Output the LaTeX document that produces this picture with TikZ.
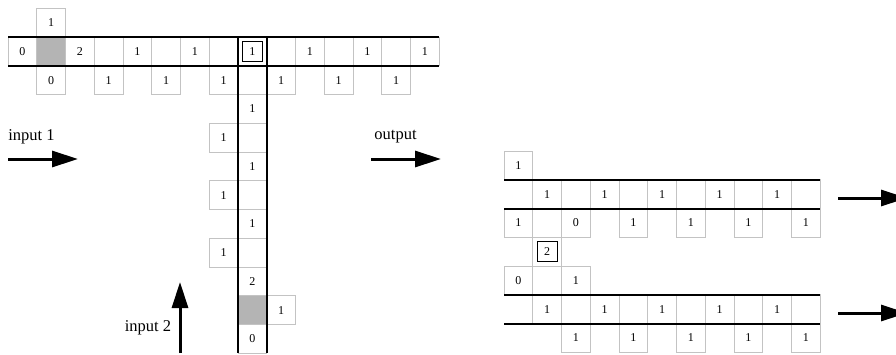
\documentclass[tikz,border=0pt]{standalone}
\usepackage{fontspec}
\setmainfont{Liberation Serif}
\usetikzlibrary{arrows.meta}
\definecolor{cellline}{RGB}{195,195,195}
\definecolor{cellfill}{RGB}{180,180,180}
\tikzset{
  cell/.style={draw=cellline, line width=0.8pt, minimum width=28.75pt, minimum height=28.75pt, inner sep=0pt, outer sep=0pt, font=\fontsize{12}{12}\selectfont},
  shaded/.style={fill=cellfill},
  innerbox/.style={draw=black, line width=0.9pt, minimum width=20pt, minimum height=20pt, inner sep=0pt, font=\fontsize{12}{12}\selectfont},
  track/.style={line width=2pt, black},
  bigarrow/.style={line width=3pt, -{Triangle[length=26pt,width=16pt]}},
  lbl/.style={inner sep=0pt, font=\fontsize{16.5}{17}\selectfont}
}
\newcommand\lcell[4][]{\node[cell,#1] (L-#2-#3) at ({8+28.75*(#3+0.5)},{8.25+28.75*(#2+0.5)}) {#4};}
\newcommand\rcell[4][]{\node[cell,#1] (R-#2-#3) at ({504+28.75*(#3+0.5)},{151+28.75*(#2+0.5)}) {#4};}
\begin{document}
\begin{tikzpicture}[x=1pt,y=-1pt]
\useasboundingbox (0,0) rectangle (896,354);
\clip (0,0) rectangle (896,354);
% ---------- left figure ----------
\lcell{0}{1}{1}
% horizontal band
\foreach \c in {0,...,14} {\lcell{1}{\c}{}}
\lcell{1}{0}{0}
\lcell[shaded]{1}{1}{}
\lcell{1}{2}{2}
\foreach \c in {4,6,10,12,14} {\lcell{1}{\c}{1}}
\node[innerbox] (L-1-8-in) at (L-1-8) {1};
% row below band
\lcell{2}{1}{0}
\foreach \c in {3,5,7,9,11,13} {\lcell{2}{\c}{1}}
% vertical band
\foreach \r in {2,...,11} {\lcell{\r}{8}{}}
\foreach \r in {3,5,7} {\lcell{\r}{8}{1}}
\lcell{9}{8}{2}
\lcell[shaded]{10}{8}{}
\lcell{11}{8}{0}
\foreach \r in {4,6,8} {\lcell{\r}{7}{1}}
\lcell{10}{9}{1}
% tracks
\draw[track] (L-1-0.north west) -- (L-1-14.north east);
\draw[track] (L-1-0.south west) -- (L-1-14.south east);
\draw[track] (L-1-8.north west) -- (L-11-8.south west);
\draw[track] (L-1-8.north east) -- (L-11-8.south east);
% ---------- right figure ----------
\rcell{0}{0}{1}
\foreach \c in {1,...,10} {\rcell{1}{\c}{}}
\foreach \c in {1,3,5,7,9} {\rcell{1}{\c}{1}}
\rcell{2}{0}{1}
\rcell{2}{1}{}
\rcell{2}{2}{0}
\foreach \c in {4,6,8,10} {\rcell{2}{\c}{1}}
\rcell{3}{1}{}
\node[innerbox] (R-3-1-in) at (R-3-1) {2};
\rcell{4}{0}{0}
\rcell{4}{1}{}
\rcell{4}{2}{1}
\foreach \c in {1,...,10} {\rcell{5}{\c}{}}
\foreach \c in {1,3,5,7,9} {\rcell{5}{\c}{1}}
\foreach \c in {2,4,6,8,10} {\rcell{6}{\c}{1}}
\draw[track] (R-0-0.south west) -- (R-1-10.north east);
\draw[track] (R-2-0.north west) -- (R-1-10.south east);
\draw[track] (R-4-0.south west) -- (R-5-10.north east);
\draw[track] (R-4-0.south west |- R-5-1.south west) -- (R-5-10.south east);
% ---------- arrows and labels ----------
\node[lbl] (in1) at (31.5,137) {input 1};
\coordinate (a1s) at (8,159);
\coordinate (a1e) at (78,159);
\draw[bigarrow] (a1s) -- (a1e);
\node[lbl] (in2) at (148,328) {input 2};
\coordinate (a2s) at (180,353);
\coordinate (a2e) at (180,282);
\draw[bigarrow] (a2s) -- (a2e);
\node[lbl] (out) at (395.5,137) {output};
\coordinate (a3s) at (371,159);
\coordinate (a3e) at (441,159);
\draw[bigarrow] (a3s) -- (a3e);
\coordinate (a4s) at (838,198);
\coordinate (a4e) at (907,198);
\draw[bigarrow] (a4s) -- (a4e);
\coordinate (a5s) at (838,313);
\coordinate (a5e) at (907,313);
\draw[bigarrow] (a5s) -- (a5e);
\end{tikzpicture}
\end{document}
